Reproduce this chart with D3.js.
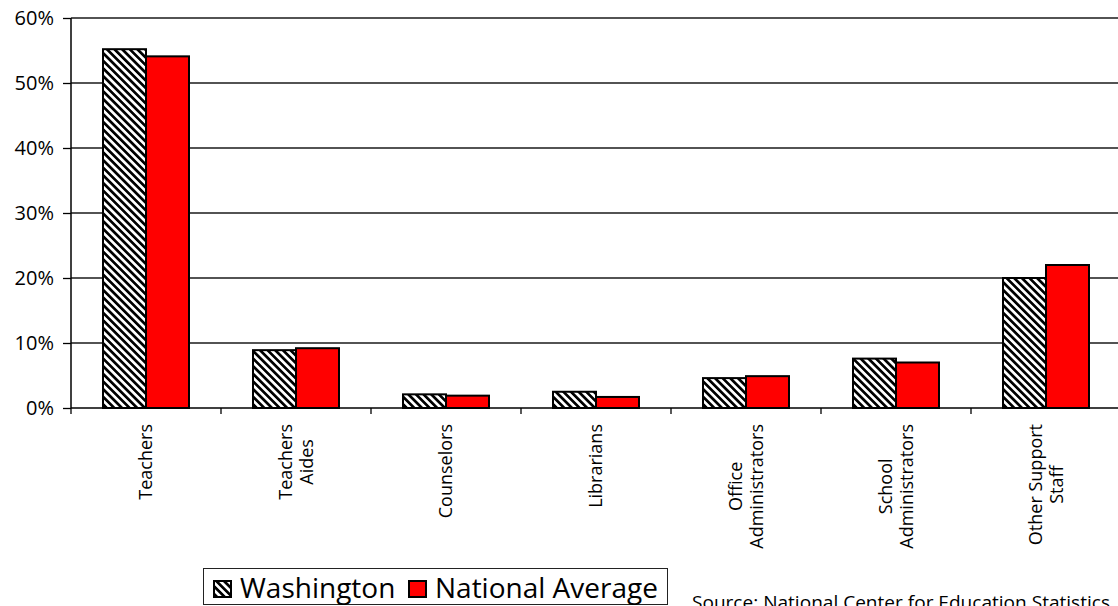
<!DOCTYPE html>
<html>
<head>
<meta charset="utf-8">
<script src="https://cdn.jsdelivr.net/npm/d3@7"></script>
<style>
  body { margin: 0; background: #fff; }
  svg { display: block; font-family: "Open Sans", sans-serif; }
</style>
</head>
<body>
<script>
// categories, each a list of label lines
var categories = [
  ["Teachers"],
  ["Teachers", "Aides"],
  ["Counselors"],
  ["Librarians"],
  ["Office", "Administrators"],
  ["School", "Administrators"],
  ["Other Support", "Staff"]
];
var seriesNames = ["Washington", "National Average"];
var washington = [0.552, 0.089, 0.021, 0.025, 0.046, 0.076, 0.200];
var nationalAvg = [0.541, 0.092, 0.019, 0.017, 0.049, 0.070, 0.220];
var yTicks = [0, 0.1, 0.2, 0.3, 0.4, 0.5, 0.6];

var W = 1118, H = 606;
var plotL = 71, plotT = 18, plotB = 408, plotR = 1121;

var svg = d3.select("body").append("svg").attr("width", W).attr("height", H);

// hatch pattern for Washington
var defs = svg.append("defs");
var pat = defs.append("pattern")
  .attr("id", "hatch")
  .attr("patternUnits", "userSpaceOnUse")
  .attr("width", 5.4).attr("height", 5.4)
  .attr("patternTransform", "rotate(-45)");
pat.append("rect").attr("width", 5.4).attr("height", 5.4).attr("fill", "#fff");
pat.append("rect").attr("width", 2.7).attr("height", 5.4).attr("fill", "#000");

var fills = ["url(#hatch)", "#ff0000"];

var keys = categories.map(function(c) { return c.join(" "); });
var x = d3.scaleBand().domain(keys).range([plotL, plotR]).paddingInner(0).paddingOuter(0);
var x1 = d3.scaleBand().domain(seriesNames).range([32, x.bandwidth() - 32]).padding(0);
var y = d3.scaleLinear().domain([0, 0.6]).range([plotB, plotT]);

// gridlines
svg.append("g").selectAll("line")
  .data(yTicks.filter(function(t) { return t > 0; }))
  .enter().append("line")
  .attr("x1", plotL).attr("x2", W)
  .attr("y1", function(d) { return y(d); })
  .attr("y2", function(d) { return y(d); })
  .attr("stroke", "#1a1a1a").attr("stroke-width", 1.3);

// y axis
var yAxis = d3.axisLeft(y).tickValues(yTicks).tickFormat(d3.format(".0%")).tickSize(8).tickPadding(9);
var gy = svg.append("g").attr("transform", "translate(" + plotL + ",0)").call(yAxis);
gy.select(".domain").attr("stroke", "#000").attr("stroke-width", 1.5).attr("d", "M0," + plotT + "V" + plotB);
gy.selectAll(".tick line").attr("stroke", "#000").attr("stroke-width", 1.3);
gy.selectAll(".tick text").attr("font-size", 20).attr("fill", "#000")
  .attr("font-family", "Open Sans, sans-serif");

// x axis baseline and ticks at category edges
var gx = svg.append("g");
gx.append("line").attr("x1", plotL).attr("x2", W).attr("y1", plotB).attr("y2", plotB)
  .attr("stroke", "#000").attr("stroke-width", 1.5);
var edges = keys.map(function(k) { return x(k); });
edges.push(x(keys[keys.length - 1]) + x.bandwidth());
gx.selectAll("line.tk").data(edges).enter().append("line")
  .attr("class", "tk")
  .attr("x1", function(d) { return d; }).attr("x2", function(d) { return d; })
  .attr("y1", plotB).attr("y2", plotB + 6)
  .attr("stroke", "#000").attr("stroke-width", 1.3);

// bars
var rows = keys.map(function(k, i) { return { key: k, vals: [washington[i], nationalAvg[i]] }; });
var groups = svg.append("g").selectAll("g").data(rows).enter().append("g")
  .attr("transform", function(d) { return "translate(" + x(d.key) + ",0)"; });
groups.selectAll("rect")
  .data(function(d) { return d.vals.map(function(v, j) { return { s: seriesNames[j], v: v, j: j }; }); })
  .enter().append("rect")
  .attr("x", function(d) { return x1(d.s); })
  .attr("width", x1.bandwidth())
  .attr("y", function(d) { return y(d.v); })
  .attr("height", function(d) { return y(0) - y(d.v); })
  .attr("fill", function(d) { return fills[d.j]; })
  .attr("stroke", "#000").attr("stroke-width", 2);

// rotated category labels
var lineGap = 21, labTop = 424;
categories.forEach(function(lines, i) {
  var cx = x(keys[i]) + x.bandwidth() / 2;
  var g = svg.append("g");
  var texts = lines.map(function(s) {
    return g.append("text").text(s).attr("font-size", 18).attr("fill", "#000")
      .attr("text-anchor", "middle");
  });
  var maxLen = d3.max(texts, function(t) { return t.node().getComputedTextLength(); });
  var cy = labTop + maxLen / 2;
  var n = lines.length;
  texts.forEach(function(t, li) {
    var off = (li - (n - 1) / 2) * lineGap;
    t.attr("transform", "translate(" + (cx + off + 6) + "," + cy + ") rotate(-90)");
  });
});

// legend
var lg = svg.append("g");
lg.append("rect").attr("x", 203.5).attr("y", 568.5).attr("width", 464).attr("height", 36)
  .attr("fill", "#fff").attr("stroke", "#222").attr("stroke-width", 1);
var legX = [213, 408], legTx = [240, 435];
seriesNames.forEach(function(s, j) {
  lg.append("rect").attr("x", legX[j] + 1).attr("y", 581).attr("width", 17).attr("height", 16)
    .attr("fill", fills[j]).attr("stroke", "#000").attr("stroke-width", 2);
  lg.append("text").attr("x", legTx[j]).attr("y", 598).attr("font-size", 28)
    .attr("fill", "#000").text(s);
});

// source note
svg.append("text").attr("x", 692).attr("y", 609)
  .attr("font-size", 19).attr("fill", "#000")
  .attr("textLength", 418).attr("lengthAdjust", "spacingAndGlyphs")
  .text("Source: National Center for Education Statistics");
</script>
</body>
</html>
